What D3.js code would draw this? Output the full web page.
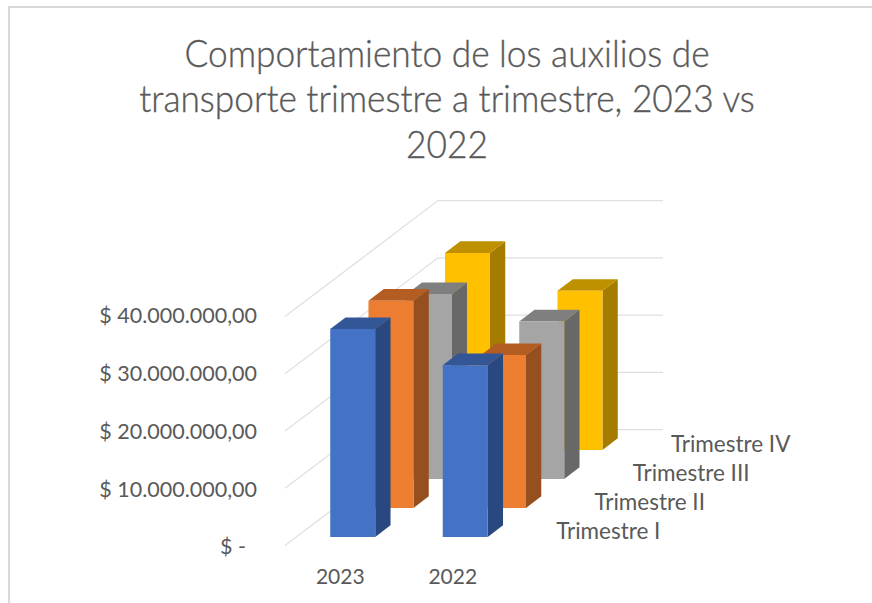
<!DOCTYPE html>
<html><head><meta charset="utf-8">
<script src="https://cdnjs.cloudflare.com/ajax/libs/d3/7.9.0/d3.min.js"></script>
<style>html,body{margin:0;padding:0;background:#fff}svg{display:block}
text{font-family:Lato,"Open Sans",sans-serif;fill:#595959}</style></head>
<body><svg id="c" width="872" height="603"></svg>
<script>
const titleLines = ["Comportamiento de los auxilios de","transporte trimestre a trimestre, 2023 vs","2022"];
const categories = ["2023","2022"];
const seriesNames = ["Trimestre I","Trimestre II","Trimestre III","Trimestre IV"];
const trimestreI   = [36300000, 30000000];
const trimestreII  = [36200000, 26700000];
const trimestreIII = [32300000, 27500000];
const trimestreIV  = [34400000, 27800000];
const seriesValues = [trimestreI, trimestreII, trimestreIII, trimestreIV];
const yTicks = [0, 10000000, 20000000, 30000000, 40000000];

const faces = [
  {front:"#4472C4", top:"#335697", side:"#2A4880"},
  {front:"#ED7D31", top:"#B45D22", side:"#964F1E"},
  {front:"#A5A5A5", top:"#7F7F7F", side:"#686868"},
  {front:"#FFC000", top:"#BF9000", side:"#A67C00"}
];

const svg = d3.select("#c");
// frame
svg.append("path").attr("d","M9,603V7H872").attr("fill","none").attr("stroke","#d9d9d9").attr("stroke-width",2);

// title
svg.append("g").attr("transform","translate(447,0) scale(0.953,1)")
  .selectAll("text").data(titleLines).join("text")
  .attr("x",0).attr("y",(d,i)=>67+i*45.5)
  .attr("text-anchor","middle").attr("font-size",37).attr("font-weight",300)
  .attr("stroke","#595959").attr("stroke-width",0.35).text(d=>d);

// 3D layout
const floor = {x0:285, y0:545.6, dx:153, dy:-116, w:225};
const x = d3.scaleBand().domain(categories).range([0,floor.w]).paddingInner(0.6).paddingOuter(0.3);
const y = d3.scaleLinear().domain([0,40000000]).range([0,229]);
const z = d3.scaleBand().domain(seriesNames).range([0,1]).paddingInner(0.6).paddingOuter(0.3);
const proj = (px,val,dp)=>[floor.x0+px+floor.dx*dp, floor.y0-y(val)+floor.dy*dp];
const poly = pts=>"M"+pts.map(p=>p.join(",")).join("L")+"Z";

// gridlines: left wall + back wall
const grid = svg.append("g").attr("fill","none").attr("stroke","#e0e0e0").attr("stroke-width",1.3);
yTicks.forEach(t=>{
  const a=proj(0,t,0), b=proj(0,t,1), c=proj(floor.w,t,1);
  grid.append("path").attr("d",`M${a}L${b}L${c}`);
});

// bars, back row first
const bars = svg.append("g");
d3.range(seriesNames.length-1,-1,-1).forEach(s=>{
  const name=seriesNames[s], z0=z(name), z1=z0+z.bandwidth(), col=faces[s];
  categories.forEach((cat,ci)=>{
    const v=seriesValues[s][ci], l=x(cat), r=l+x.bandwidth();
    const g=bars.append("g");
    g.append("path").attr("fill",col.side)
      .attr("d",poly([proj(r,0,z0),proj(r,v,z0),proj(r,v,z1),proj(r,0,z1)]));
    g.append("path").attr("fill",col.top)
      .attr("d",poly([proj(l,v,z0),proj(r,v,z0),proj(r,v,z1),proj(l,v,z1)]));
    g.append("path").attr("fill",col.front)
      .attr("d",poly([proj(l,0,z0),proj(r,0,z0),proj(r,v,z0),proj(l,v,z0)]));
  });
});

// value axis
const loc = d3.formatLocale({decimal:",",thousands:".",grouping:[3],currency:["$ ",""]});
const money = loc.format("$,.2f");
const yAxisScale = d3.scaleLinear().domain([0,40000000]).range([547,316]);
const yAxis = d3.axisLeft(yAxisScale).tickValues(yTicks).tickSize(0).tickPadding(0)
  .tickFormat(d=>d===0?"$ -":money(d));
const ya = svg.append("g").attr("transform","translate(257,0)").call(yAxis);
ya.select(".domain").remove();
ya.attr("font-family",null).attr("font-size",null);
ya.selectAll("text").attr("font-size",21.5).attr("dx",d=>d===0?-11:0);

// category axis
const xa = svg.append("g").attr("transform",`translate(${floor.x0},0)`);
xa.selectAll("text").data(categories).join("text")
  .attr("x",d=>x(d)+x.bandwidth()/2-1).attr("y",584)
  .attr("text-anchor","middle").attr("font-size",21).text(d=>d);

// series axis
svg.append("g").selectAll("text").data(seriesNames).join("text")
  .attr("x",d=>proj(floor.w,0,z(d)+z.bandwidth()/2)[0]+27)
  .attr("y",d=>proj(floor.w,0,z(d)+z.bandwidth()/2)[1]+8)
  .attr("font-size",22.5).text(d=>d);
</script></body></html>
